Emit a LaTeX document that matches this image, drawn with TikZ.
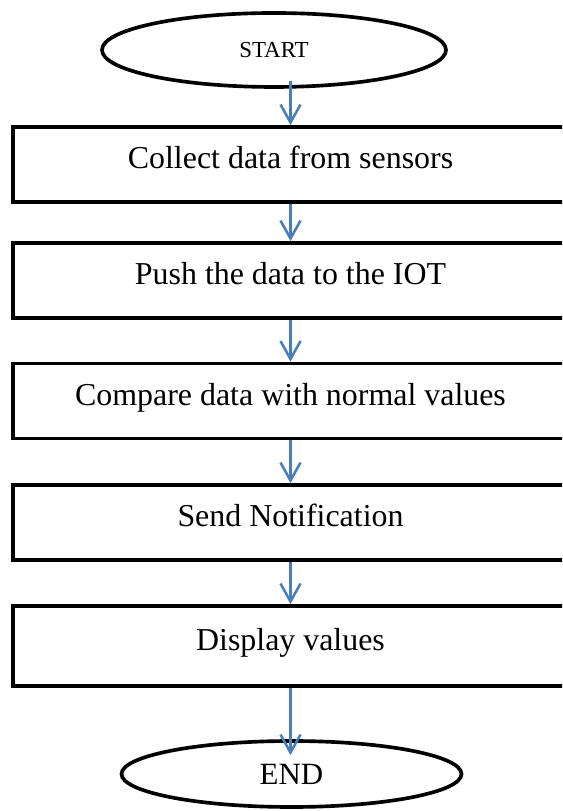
\documentclass[tikz,border=0pt]{standalone}
\usepackage{fontspec}
\setmainfont{Liberation Serif}
\usetikzlibrary{calc,shapes.geometric,arrows.meta}
\definecolor{flowblue}{HTML}{4A7EBB}

\begin{document}
\begin{tikzpicture}[
    terminal/.style={draw, ellipse, line width=2.6pt, inner sep=0pt,
      minimum width=8.6cm, minimum height=1.85cm},
    stepbox/.style={draw, rectangle, line width=2.6pt,
      minimum width=13.875cm, minimum height=1.875cm,
      text height=16pt, text depth=10pt,
      font=\fontsize{22.7}{27}\selectfont},
    flow/.style={draw=flowblue, line width=1.8pt,
      -{Straight Barb[length=0.45cm, width=0.5cm]}}]
    \useasboundingbox (0,0) rectangle (14.05,20.275);
    \clip (0,0) rectangle (14.05,20.275);

    \node[terminal, font=\fontsize{16.3}{19}\selectfont] (start) at
    (6.85,19.025) {START};

    \node[stepbox] (collect) at (7.2625,16.1625) {Collect data from sensors};
    \node[stepbox] (push) at (7.2625,13.2625) {Push the data to the IOT};
    \node[stepbox] (compare) at (7.2625,10.25) {Compare data with normal values};
    \node[stepbox] (notify) at (7.2625,7.2125) {Send Notification};
    \node[stepbox, minimum height=2cm] (display) at (7.2625,4.125)
    {Display values};

    \node[terminal, minimum width=8.5cm, minimum height=1.65cm,
    font=\fontsize{22}{26}\selectfont] (finish) at (7.2875,0.925) {END};

    \draw[flow] ($(start.south -| collect.north)+(0,0.2)$) -- (collect.north);
    \draw[flow] (collect) -- (push);
    \draw[flow] (push) -- (compare);
    \draw[flow] (compare) -- (notify);
    \draw[flow] (notify) -- (display);
    \draw[flow] (display.south) -- ($(display.south |- finish.north)+(0,-0.4)$);
  \end{tikzpicture}
\end{document}
